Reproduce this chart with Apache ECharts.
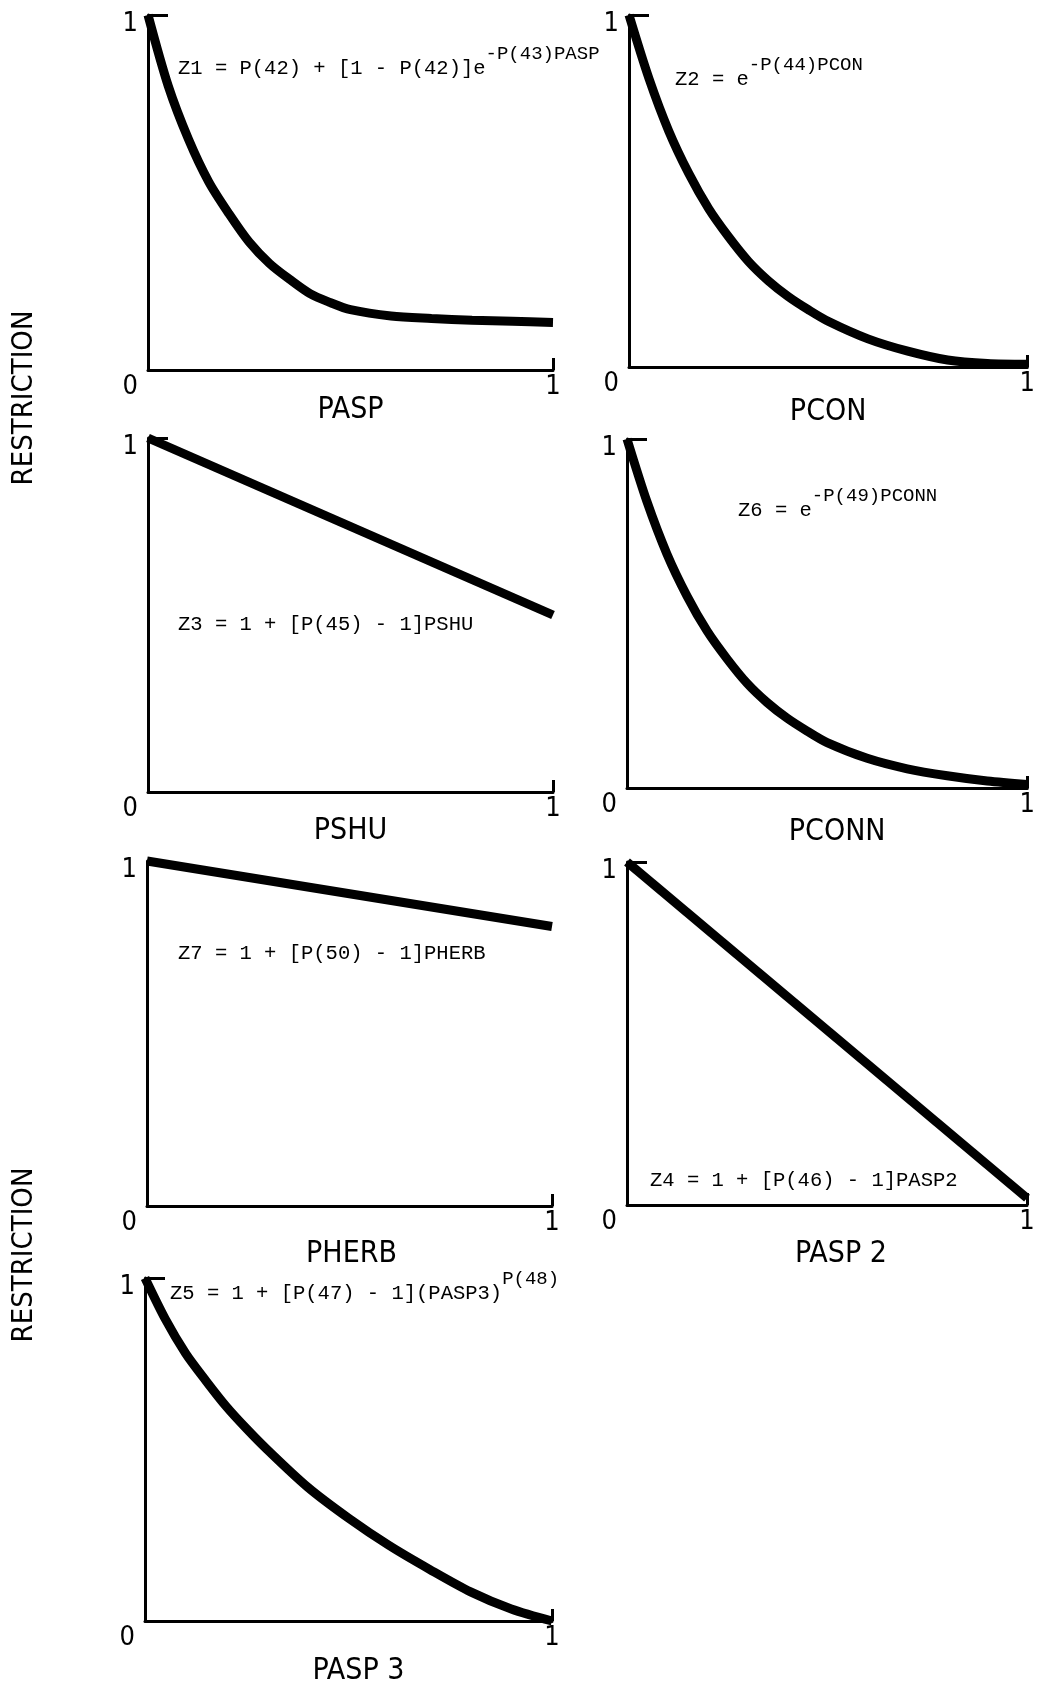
<!DOCTYPE html>
<html>
<head>
<meta charset="utf-8">
<script src="https://cdn.jsdelivr.net/npm/echarts@6/dist/echarts.min.js"></script>
<style>
html, body { margin: 0; padding: 0; background: #fff; }
#main { width: 1038px; height: 1687px; }
</style>
</head>
<body>
<div id="main"></div>
<script>
// 横轴取样点
var xCurve = [0, 0.05, 0.1, 0.15, 0.2, 0.25, 0.3, 0.35, 0.4, 0.45, 0.5, 0.6, 0.7, 0.8, 0.9, 1];
var xPasp3 = [0, 0.05, 0.1, 0.15, 0.2, 0.25, 0.3, 0.4, 0.5, 0.6, 0.7, 0.8, 0.9, 1];
var xLine = [0, 1];

// 各曲线读数 (RESTRICTION)
var z1Pasp = [1, 0.80, 0.65, 0.53, 0.44, 0.36, 0.30, 0.255, 0.215, 0.19, 0.17, 0.152, 0.145, 0.14, 0.137, 0.134];
var z2Pcon = [1, 0.82, 0.67, 0.55, 0.45, 0.37, 0.30, 0.245, 0.20, 0.163, 0.13, 0.08, 0.045, 0.02, 0.01, 0.008];
var z3Pshu = [1, 0.50];
var z6Pconn = [1, 0.82, 0.67, 0.55, 0.45, 0.37, 0.30, 0.245, 0.20, 0.163, 0.13, 0.085, 0.055, 0.035, 0.02, 0.01];
var z7Pherb = [1, 0.81];
var z4Pasp2 = [1, 0.02];
var z5Pasp3 = [1, 0.88, 0.78, 0.70, 0.625, 0.56, 0.50, 0.39, 0.30, 0.22, 0.15, 0.085, 0.035, 0];

var axisNames = ['PASP', 'PCON', 'PSHU', 'PCONN', 'PHERB', 'PASP 2', 'PASP 3'];
var yTitle = 'RESTRICTION';

var sansFont = '"Liberation Sans Narrow", "DejaVu Sans Condensed", "DejaVu Sans", sans-serif';
var monoFont = '"Liberation Mono", "DejaVu Sans Mono", monospace';

function pairs(xs, ys) {
    var out = [];
    for (var i = 0; i < xs.length; i++) {
        out.push([xs[i], ys[i]]);
    }
    return out;
}

// 每个小图: 数据 + 位置 [left, top, width, height] + 横轴名间距/水平偏移
var panels = [
    {x: xCurve, y: z1Pasp,  name: axisNames[0], box: [148, 15, 405, 355],  gap: 25, shift: 0},
    {x: xCurve, y: z2Pcon,  name: axisNames[1], box: [629, 15, 403, 352],  gap: 30, shift: 0},
    {x: xLine,  y: z3Pshu,  name: axisNames[2], box: [148, 438, 405, 354], gap: 24, shift: 0},
    {x: xCurve, y: z6Pconn, name: axisNames[3], box: [627, 439, 402, 349], gap: 29, shift: 10},
    {x: xLine,  y: z7Pherb, name: axisNames[4], box: [147, 861, 405, 345], gap: 33, shift: 2},
    {x: xLine,  y: z4Pasp2, name: axisNames[5], box: [627, 862, 400, 343], gap: 34, shift: 14},
    {x: xPasp3, y: z5Pasp3, name: axisNames[6], box: [145, 1278, 407, 345], gap: 35, shift: 10}
];

var grids = [], xAxes = [], yAxes = [], series = [];
var axisLine = {show: true, onZero: false, lineStyle: {color: '#000', width: 3}};

for (var i = 0; i < panels.length; i++) {
    var p = panels[i];
    grids.push({left: p.box[0], top: p.box[1], width: p.box[2], height: p.box[3], containLabel: false});
    xAxes.push({
        gridIndex: i, type: 'value', min: 0, max: 1, interval: 1,
        axisLine: axisLine,
        axisTick: {show: true, inside: true, length: 12, lineStyle: {color: '#000', width: 3}},
        splitLine: {show: false},
        axisLabel: {showMinLabel: false, color: '#000', fontSize: 27, fontFamily: sansFont, margin: 3},
        name: p.name, nameLocation: 'middle', nameGap: p.gap, nameMoveOverlap: false,
        nameTextStyle: {color: '#000', fontSize: 30, fontFamily: sansFont, padding: [0, 0, 0, p.shift * 2]}
    });
    yAxes.push({
        gridIndex: i, type: 'value', min: 0, max: 1, interval: 1,
        axisLine: axisLine,
        axisTick: {show: true, inside: true, length: 20, lineStyle: {color: '#000', width: 3}},
        splitLine: {show: false},
        axisLabel: {
            margin: 10,
            formatter: function (v) { return v === 0 ? '{lo|0}' : '{hi|1}'; },
            rich: {
                lo: {color: '#000', fontSize: 27, fontFamily: sansFont, padding: [34, 0, 0, 0]},
                hi: {color: '#000', fontSize: 27, fontFamily: sansFont, padding: [18, 0, 0, 0]}
            }
        }
    });
    series.push({
        type: 'line', xAxisIndex: i, yAxisIndex: i,
        data: pairs(p.x, p.y),
        smooth: p.x.length > 2 ? 0.3 : false,
        showSymbol: false, clip: false, silent: true,
        lineStyle: {color: '#000', width: 9}
    });
}

// 公式文字
var richF = {
    b: {fontSize: 20.5, fontWeight: 'normal', fontFamily: monoFont, color: '#000', lineHeight: 20, padding: [14, 0, 0, 0], verticalAlign: 'top'},
    s: {fontSize: 19, fontWeight: 'normal', fontFamily: monoFont, color: '#000', lineHeight: 20, verticalAlign: 'top'}
};
function formula(text, left, top) {
    return {text: text, left: left, top: top, padding: 0, textStyle: {fontWeight: 'normal', rich: richF}};
}
var titles = [
    formula('{b|Z1 = P(42) + [1 - P(42)]e}{s|-P(43)PASP}', 178, 44),
    formula('{b|Z2 = e}{s|-P(44)PCON}', 675, 55),
    formula('{b|Z3 = 1 + [P(45) - 1]PSHU}', 178, 600),
    formula('{b|Z6 = e}{s|-P(49)PCONN}', 738, 486),
    formula('{b|Z7 = 1 + [P(50) - 1]PHERB}', 178, 929),
    formula('{b|Z4 = 1 + [P(46) - 1]PASP2}', 650, 1156),
    formula('{b|Z5 = 1 + [P(47) - 1](PASP3)}{s|P(48)}', 170, 1269)
];

var myChart = echarts.init(document.getElementById('main'), null, {renderer: 'canvas'});

var option = {
    backgroundColor: '#fff',
    animation: false,
    title: titles,
    grid: grids,
    xAxis: xAxes,
    yAxis: yAxes,
    series: series,
    graphic: [
        {type: 'text', x: 24, y: 398, rotation: Math.PI / 2,
         style: {text: yTitle, fill: '#000', fontSize: 29, fontFamily: sansFont, align: 'center', verticalAlign: 'middle', textAlign: 'center', textVerticalAlign: 'middle'}},
        {type: 'text', x: 24, y: 1255, rotation: Math.PI / 2,
         style: {text: yTitle, fill: '#000', fontSize: 29, fontFamily: sansFont, align: 'center', verticalAlign: 'middle', textAlign: 'center', textVerticalAlign: 'middle'}}
    ]
};

myChart.setOption(option);
</script>
</body>
</html>
